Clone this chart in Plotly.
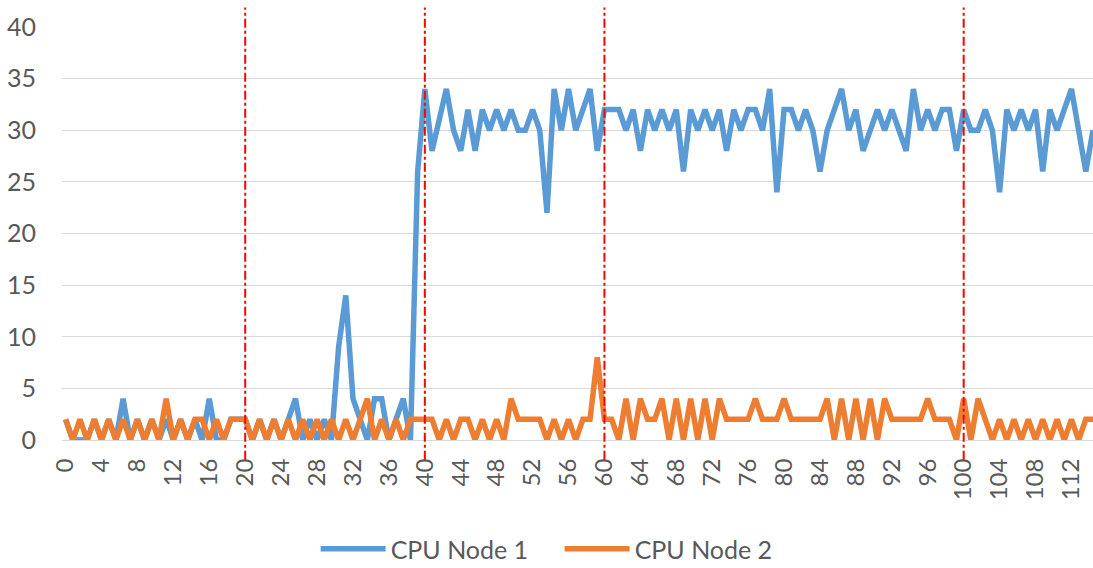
import plotly.graph_objects as go

# CPU utilisation samples (one sample every 0.8 time units)
node1 = [
    2, 0, 0, 0, 2, 0, 2, 0, 4, 0, 2, 0, 2, 0, 2, 0, 2, 0, 2, 0,
    4, 0, 0, 2, 2, 2, 0, 2, 0, 2, 0, 2, 4, 0, 2, 0, 2, 0, 9, 14,
    4, 2, 0, 4, 4, 0, 2, 4, 0, 26, 34, 28, 31, 34, 30, 28, 32, 28, 32, 30,
    32, 30, 32, 30, 30, 32, 30, 22, 34, 30, 34, 30, 32, 34, 28, 32, 32, 32, 30, 32,
    28, 32, 30, 32, 30, 32, 26, 32, 30, 32, 30, 32, 28, 32, 30, 32, 32, 30, 34, 24,
    32, 32, 30, 32, 30, 26, 30, 32, 34, 30, 32, 28, 30, 32, 30, 32, 30, 28, 34, 30,
    32, 30, 32, 32, 28, 32, 30, 30, 32, 30, 24, 32, 30, 32, 30, 32, 26, 32, 30, 32,
    34, 30, 26, 30,
]
node2 = [
    2, 0, 2, 0, 2, 0, 2, 0, 2, 0, 2, 0, 2, 0, 4, 0, 2, 0, 2, 2,
    0, 2, 0, 2, 2, 2, 0, 2, 0, 2, 0, 2, 0, 2, 0, 2, 0, 2, 0, 2,
    0, 2, 4, 0, 2, 0, 2, 0, 2, 2, 2, 2, 0, 2, 0, 2, 2, 0, 2, 0,
    2, 0, 4, 2, 2, 2, 2, 0, 2, 0, 2, 0, 2, 2, 8, 2, 2, 0, 4, 0,
    4, 2, 2, 4, 0, 4, 0, 4, 0, 4, 0, 4, 2, 2, 2, 2, 4, 2, 2, 2,
    4, 2, 2, 2, 2, 2, 4, 0, 4, 0, 4, 0, 4, 0, 4, 2, 2, 2, 2, 2,
    4, 2, 2, 2, 0, 4, 0, 4, 2, 0, 2, 0, 2, 0, 2, 0, 2, 0, 2, 0,
    2, 0, 2, 2,
]
sample_step = 0.8
phase_marks = [20, 40, 60, 100]
x_tick_vals = list(range(0, 113, 4))
y_tick_vals = list(range(0, 41, 5))
series_names = ["CPU Node 1", "CPU Node 2"]
series_colors = ["#5b9bd5", "#ed7d31"]

x = [round(i * sample_step, 1) for i in range(len(node1))]

FONT = "Lato, 'Open Sans', 'Liberation Sans', sans-serif"
GRAY = "#595959"

fig = go.Figure()
for name, vals, col in zip(series_names, [node1, node2], series_colors):
    fig.add_trace(go.Scatter(
        x=x, y=vals, mode="lines", name=name,
        line=dict(color=col, width=5.5, shape="linear"),
    ))

for xv in phase_marks:
    fig.add_shape(type="line", xref="x", yref="paper", x0=xv, x1=xv,
                  y0=-0.048, y1=1.047,
                  line=dict(color="#ff0000", width=2, dash="dashdot"))

fig.update_layout(
    width=1093, height=568,
    margin=dict(l=62, r=0, t=27, b=128, autoexpand=False),
    paper_bgcolor="white", plot_bgcolor="white",
    font=dict(family=FONT, color=GRAY, size=19),
    showlegend=True,
    legend=dict(orientation="h", x=0.246, xanchor="left", y=-0.264,
                yanchor="middle", font=dict(size=25, color=GRAY),
                itemwidth=65, entrywidth=164, entrywidthmode="pixels",
                traceorder="normal"),
)
fig.update_xaxes(
    range=[-0.4, 114.4], tickmode="array", tickvals=x_tick_vals,
    ticktext=[str(v) for v in x_tick_vals], tickangle=-90,
    showgrid=False, zeroline=False, showline=True, linecolor="#d9d9d9",
    ticks="outside", ticklen=8, tickcolor="rgba(0,0,0,0)",
    tickfont=dict(size=24, color=GRAY), automargin=False,
)
fig.update_yaxes(
    range=[0, 40], tickmode="array", tickvals=y_tick_vals,
    showgrid=True, gridcolor="#d9d9d9", gridwidth=1, zeroline=False,
    ticks="outside", ticklen=20, tickcolor="rgba(0,0,0,0)",
    tickfont=dict(size=25, color=GRAY), automargin=False,
)

# remove the default page margin so the figure fills the window exactly
fig.write_html(
    "out.html",
    config={"displayModeBar": False},
    post_script="document.body.style.margin='0px';document.body.style.overflow='hidden';",
)
